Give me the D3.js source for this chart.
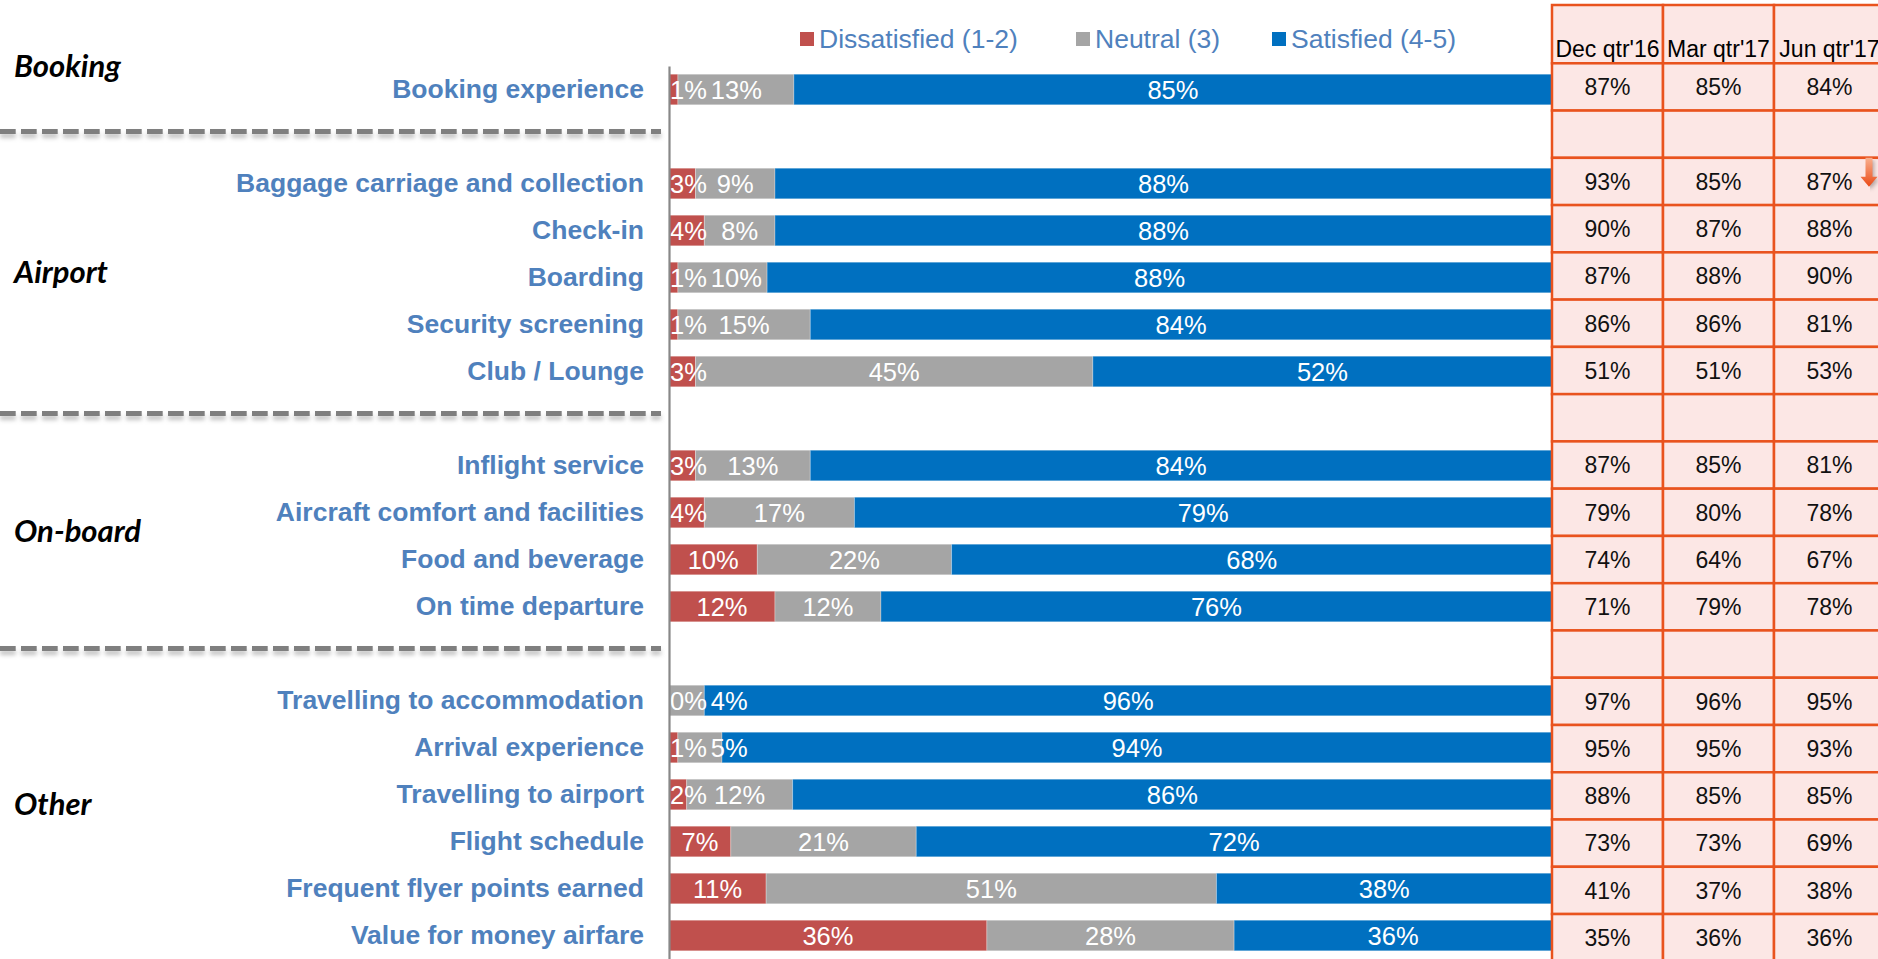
<!DOCTYPE html>
<html>
<head>
<meta charset="utf-8">
<script src="https://cdn.jsdelivr.net/npm/d3@7/dist/d3.min.js"></script>
<style>
  html, body { margin: 0; padding: 0; background: #fff; overflow: hidden; }
  svg { display: block; }
</style>
</head>
<body>
<svg id="chart" width="1878" height="959"></svg>
<script>
// Survey attributes, top to bottom; empty strings are spacer rows between sections
const categories = [
  "Booking experience", "",
  "Baggage carriage and collection", "Check-in", "Boarding", "Security screening", "Club / Lounge", "",
  "Inflight service", "Aircraft comfort and facilities", "Food and beverage", "On time departure", "",
  "Travelling to accommodation", "Arrival experience", "Travelling to airport", "Flight schedule",
  "Frequent flyer points earned", "Value for money airfare"
];
const sections = ["Booking", "Airport", "On-board", "Other"];

// Share of respondents (%) per rating band
const dissatisfied = [1, null, 3, 4, 1, 1, 3, null, 3, 4, 10, 12, null, 0, 1, 2, 7, 11, 36];
const neutral      = [13, null, 9, 8, 10, 15, 45, null, 13, 17, 22, 12, null, 4, 5, 12, 21, 51, 28];
const satisfied    = [85, null, 88, 88, 88, 84, 52, null, 84, 79, 68, 76, null, 96, 94, 86, 72, 38, 36];
const seriesNames  = ["Dissatisfied (1-2)", "Neutral (3)", "Satisfied (4-5)"];

// Satisfied share by quarter
const quarters  = ["Dec qtr'16", "Mar qtr'17", "Jun qtr'17"];
const decQtr16  = [87, null, 93, 90, 87, 86, 51, null, 87, 79, 74, 71, null, 97, 95, 88, 73, 41, 35];
const marQtr17  = [85, null, 85, 87, 88, 86, 51, null, 85, 80, 64, 79, null, 96, 95, 85, 73, 37, 36];
const junQtr17  = [84, null, 87, 88, 90, 81, 53, null, 81, 78, 67, 78, null, 95, 93, 85, 69, 38, 36];
// Cells flagged with a downward arrow
const flaggedDeclines = [{ row: "Baggage carriage and collection", quarter: "Jun qtr'17" }];

const colors = ["#C0504D", "#A5A5A5", "#0070C0"];
const labelBlue = "#4F81BD";
const gridOrange = "#E9531E";
const cellPink = "#FCE7E5";
const sansFont = "'Liberation Sans', Arial, Helvetica, sans-serif";

const svg = d3.select("#chart");
const W = 1878, H = 959;
const rowIdx = d3.range(categories.length);

// ---- scales ----
const yBar = d3.scaleBand().domain(rowIdx).range([66, 959]).paddingInner(0.35).paddingOuter(0.175);
const yCell = d3.scaleBand().domain(rowIdx).range([63.3, 961.3]).padding(0);
const x = d3.scaleLinear().domain([0, 1]).range([669, 1552]);
const xCol = d3.scaleBand().domain(quarters).range([1552, 1885]);

// ---- defs ----
const defs = svg.append("defs");
const blur = defs.append("filter").attr("id", "softBlur")
  .attr("filterUnits", "userSpaceOnUse")
  .attr("x", 0).attr("y", 0).attr("width", W).attr("height", H);
blur.append("feGaussianBlur").attr("stdDeviation", 2.2);
const grad = defs.append("linearGradient").attr("id", "arrowGrad")
  .attr("x1", 0).attr("y1", 0).attr("x2", 0).attr("y2", 1);
grad.append("stop").attr("offset", "0%").attr("stop-color", "#F9B08E");
grad.append("stop").attr("offset", "100%").attr("stop-color", "#EA4A17");

// ---- legend ----
const legendX = [800, 1076, 1272];
const legend = svg.append("g").selectAll("g").data(seriesNames).join("g")
  .attr("transform", (d, i) => `translate(${legendX[i]},0)`);
legend.append("rect").attr("x", 0).attr("y", 32).attr("width", 14).attr("height", 14)
  .attr("fill", (d, i) => colors[i]);
legend.append("text").attr("x", 19).attr("y", 47.5)
  .attr("font-family", sansFont).attr("font-size", 26.5).attr("fill", labelBlue)
  .text(d => d);

// ---- stacked bars ----
const barRows = rowIdx.filter(i => categories[i] !== "")
  .map(i => ({ i, dis: dissatisfied[i], neu: neutral[i], sat: satisfied[i] }));
const keys = ["dis", "neu", "sat"];
const stacked = d3.stack().keys(keys).offset(d3.stackOffsetExpand)(barRows);

const barG = svg.append("g");
stacked.forEach((layer, k) => {
  barG.append("g").selectAll("rect").data(layer).join("rect")
    .attr("x", d => x(d[0]))
    .attr("width", d => Math.max(0, x(d[1]) - x(d[0])))
    .attr("y", d => yBar(d.data.i))
    .attr("height", yBar.bandwidth())
    .attr("fill", colors[k])
    .attr("stroke", "rgba(255,255,255,0.28)")
    .attr("stroke-width", 1);
});

// value labels: centred on their segment, kept inside the plot and clear of each other
const valueG = svg.append("g");
const labelNodes = {};
stacked.forEach((layer, k) => {
  valueG.append("g").selectAll("text").data(layer).join("text")
    .attr("x", d => (x(d[0]) + x(d[1])) / 2)
    .attr("y", d => yBar(d.data.i) + yBar.bandwidth() / 2)
    .attr("dy", "0.36em")
    .attr("text-anchor", "middle")
    .attr("font-family", sansFont).attr("font-size", 25.5)
    .attr("fill", "#fff")
    .text(d => d.data[keys[k]] + "%")
    .each(function(d) { (labelNodes[d.data.i] = labelNodes[d.data.i] || [])[k] = { node: this, d }; });
});
Object.values(labelNodes).forEach(list => {
  let right = x(0) + 1;
  list.forEach(({ node, d }, k) => {
    const w = node.getComputedTextLength();
    let cx = (x(d[0]) + x(d[1])) / 2;
    const minCx = right + (k === 0 ? 0 : 4) + w / 2;
    if (cx < minCx) cx = minCx;
    d3.select(node).attr("x", cx);
    right = cx + w / 2;
  });
});

// ---- category axis ----
const axis = d3.axisLeft(yBar).tickSize(0).tickSizeOuter(0).tickPadding(25)
  .tickFormat(i => categories[i]);
const axisG = svg.append("g").attr("transform", `translate(${x(0)},0)`).call(axis);
axisG.select(".domain").attr("stroke", "#888").attr("stroke-width", 2.2);
axisG.selectAll(".tick text")
  .attr("font-family", sansFont).attr("font-size", 26.5).attr("font-weight", "bold")
  .attr("fill", labelBlue);

// ---- section separators and titles ----
const gapRows = rowIdx.filter(i => categories[i] === "");
const sepY = gapRows.map(i => yBar(i) + yBar.bandwidth() / 2 - 5);
const sepG = svg.append("g");
sepG.append("g").attr("filter", "url(#softBlur)").selectAll("line").data(sepY).join("line")
  .attr("x1", 0).attr("x2", 661).attr("y1", d => d + 4).attr("y2", d => d + 4)
  .attr("stroke", "#9a9a9a").attr("stroke-width", 5).attr("stroke-opacity", 0.6)
  .attr("stroke-dasharray", "15.7,5.3");
sepG.append("g").selectAll("line").data(sepY).join("line")
  .attr("x1", 0).attr("x2", 661).attr("y1", d => d).attr("y2", d => d)
  .attr("stroke", "#7F7F7F").attr("stroke-width", 5)
  .attr("stroke-dasharray", "15.7,5.3");

const bounds = [0, ...sepY, H];
svg.append("g").selectAll("text").data(sections).join("text")
  .attr("x", 14)
  .attr("y", (d, i) => (bounds[i] + bounds[i + 1]) / 2)
  .attr("dy", "0.35em")
  .attr("font-family", "Lato, 'Open Sans', sans-serif")
  .attr("font-size", 31).attr("font-weight", 700).attr("font-style", "italic")
  .attr("fill", "#000")
  .text(d => d);

// ---- quarterly table ----
const tableG = svg.append("g");
const colData = [decQtr16, marQtr17, junQtr17];
const headerTop = 5;

tableG.selectAll("rect.head").data(quarters).join("rect").attr("class", "head")
  .attr("x", q => xCol(q)).attr("width", xCol.bandwidth())
  .attr("y", headerTop).attr("height", yCell.range()[0] - headerTop)
  .attr("fill", cellPink).attr("stroke", gridOrange).attr("stroke-width", 2.5);
tableG.selectAll("text.head").data(quarters).join("text").attr("class", "head")
  .attr("x", q => xCol(q) + xCol.bandwidth() / 2).attr("y", 57)
  .attr("text-anchor", "middle")
  .attr("font-family", sansFont).attr("font-size", 23).attr("fill", "#000")
  .text(q => q);

const cells = [];
quarters.forEach((q, c) => rowIdx.forEach(i => cells.push({ q, i, v: colData[c][i] })));
tableG.selectAll("rect.cell").data(cells).join("rect").attr("class", "cell")
  .attr("x", d => xCol(d.q)).attr("width", xCol.bandwidth())
  .attr("y", d => yCell(d.i)).attr("height", yCell.bandwidth())
  .attr("fill", cellPink).attr("stroke", gridOrange).attr("stroke-width", 2.5);
tableG.selectAll("text.cell").data(cells.filter(d => d.v != null)).join("text").attr("class", "cell")
  .attr("x", d => xCol(d.q) + xCol.bandwidth() / 2)
  .attr("y", d => yCell(d.i) + yCell.bandwidth() / 2)
  .attr("dy", "0.36em")
  .attr("text-anchor", "middle")
  .attr("font-family", sansFont).attr("font-size", 23).attr("fill", "#111")
  .text(d => d.v + "%");

// downward arrows on flagged cells
const arrowPath = "M-3.5,0 L3.5,0 L3.5,19 L8.5,19 L0,29 L-8.5,19 L-3.5,19 Z";
const arrowG = tableG.selectAll("g.arrow").data(flaggedDeclines).join("g").attr("class", "arrow")
  .attr("transform", d => {
    const i = categories.indexOf(d.row);
    return `translate(${xCol(d.quarter) + xCol.bandwidth() - 16},${yCell(i)})`;
  });
arrowG.append("path").attr("d", arrowPath).attr("transform", "translate(1.5,2.5)")
  .attr("fill", "#000").attr("fill-opacity", 0.3).attr("filter", "url(#softBlur)");
arrowG.append("path").attr("d", arrowPath).attr("fill", "url(#arrowGrad)");
</script>
</body>
</html>
